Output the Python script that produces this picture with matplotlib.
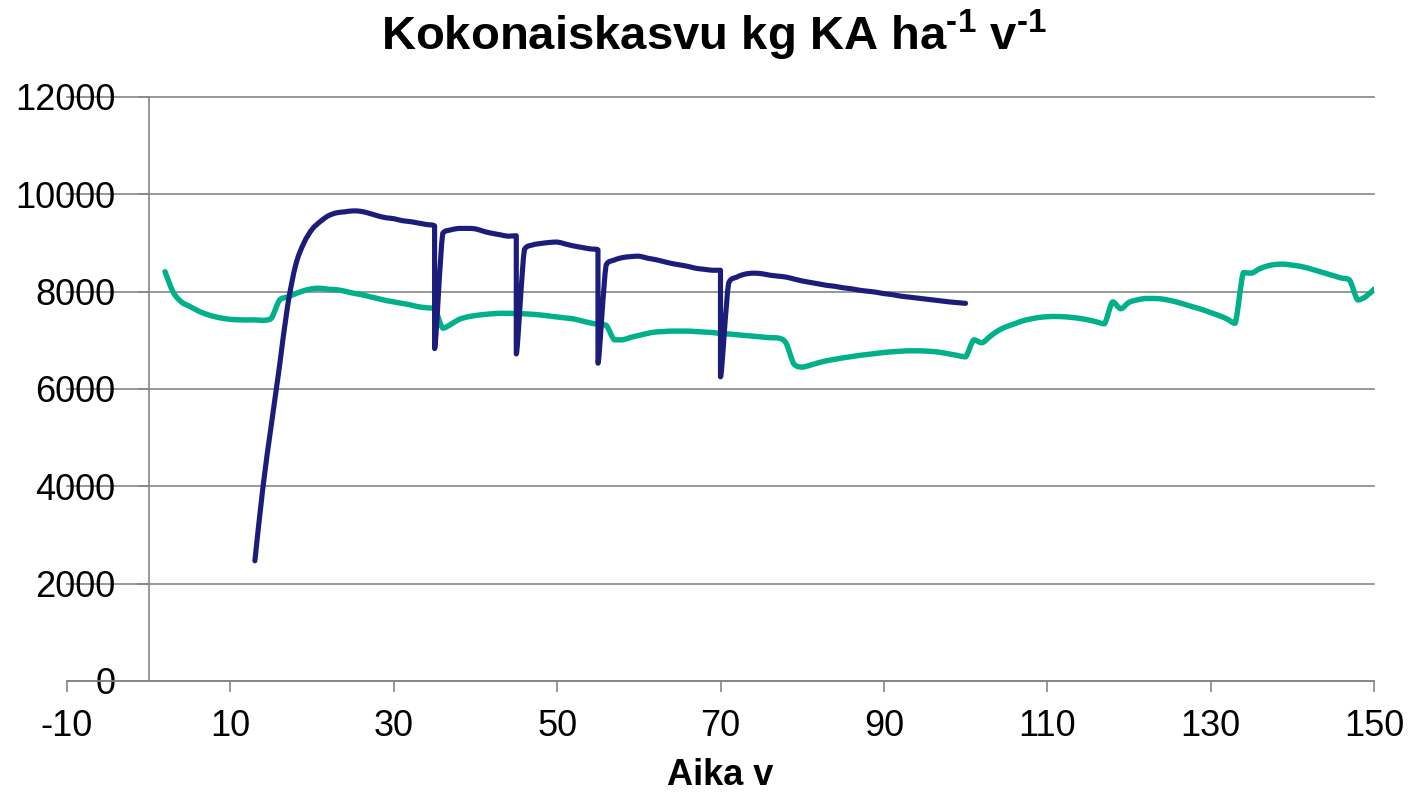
import matplotlib
matplotlib.use('Agg')
import matplotlib.pyplot as plt
from matplotlib.path import Path
from matplotlib.patches import PathPatch

plt.rcParams['font.family'] = ['Liberation Sans', 'DejaVu Sans']
plt.rcParams['mathtext.fontset'] = 'custom'
plt.rcParams['mathtext.rm'] = 'Liberation Sans:bold'
plt.rcParams['mathtext.it'] = 'Liberation Sans:bold'
plt.rcParams['mathtext.bf'] = 'Liberation Sans:bold'
plt.rcParams['mathtext.default'] = 'regular'

# ---------------- data ----------------
title_text = r'Kokonaiskasvu kg KA ha$^{\text{-1}}$ v$^{\text{-1}}$'
x_label = 'Aika v'
x_ticks = [-10, 10, 30, 50, 70, 90, 110, 130, 150]
y_ticks = [0, 2000, 4000, 6000, 8000, 10000, 12000]

navy_x = [13, 14, 15, 16, 17, 18, 19, 20, 21, 22, 23, 24, 25, 26, 27, 28, 29, 30,
          31, 32, 33, 34, 35, 35, 36, 37, 38, 39, 40, 41, 42, 43, 44, 45, 45,
          46, 47, 48, 49, 50, 51, 52, 53, 54, 55, 55, 56, 57, 58, 59, 60, 61,
          62, 63, 64, 65, 66, 67, 68, 69, 70, 70, 71, 72, 73, 74, 75, 76, 77,
          78, 79, 80, 81, 82, 83, 84, 85, 86, 87, 88, 89, 90, 91, 92, 93, 94,
          95, 96, 97, 98, 99, 100]
navy_y = [2470, 4000, 5250, 6450, 7700, 8550, 9000, 9280, 9440, 9560, 9620, 9640,
          9660, 9650, 9610, 9560, 9520, 9500, 9460, 9440, 9410, 9380, 9350, 6830,
          9200, 9270, 9300, 9300, 9290, 9240, 9200, 9170, 9140, 9150, 6720,
          8870, 8960, 8990, 9010, 9020, 8980, 8940, 8910, 8880, 8860, 6530,
          8550, 8650, 8700, 8720, 8730, 8690, 8660, 8620, 8580, 8550, 8520,
          8480, 8460, 8440, 8440, 6250, 8180, 8300, 8360, 8380, 8370, 8340,
          8320, 8300, 8260, 8220, 8190, 8160, 8130, 8110, 8080, 8060, 8030,
          8010, 7990, 7960, 7940, 7910, 7890, 7870, 7850, 7830, 7810, 7790,
          7775, 7760]

teal_x = list(range(2, 151))
teal_y = [8410, 7990, 7790, 7700, 7610, 7540, 7490, 7455, 7432, 7422, 7418, 7420,
          7410, 7450, 7820, 7890, 7960, 8020, 8060, 8070, 8050, 8040, 8010, 7970,
          7940, 7900, 7860, 7820, 7790, 7760, 7730, 7690, 7670, 7650, 7250, 7330,
          7430, 7480, 7510, 7530, 7545, 7555, 7555, 7550, 7545, 7535, 7520, 7500,
          7480, 7460, 7440, 7400, 7360, 7330, 7310, 7010, 7010, 7060, 7100, 7140,
          7170, 7180, 7190, 7190, 7190, 7180, 7170, 7160, 7140, 7130, 7115, 7100,
          7085, 7070, 7055, 7050, 6950, 6510, 6450, 6490, 6540, 6580, 6610, 6640,
          6665, 6690, 6710, 6730, 6750, 6765, 6775, 6785, 6785, 6780, 6770, 6750,
          6720, 6690, 6660, 7010, 6950, 7080, 7200, 7280, 7340, 7400, 7440, 7470,
          7485, 7490, 7485, 7470, 7450, 7420, 7380, 7340, 7790, 7650, 7780, 7830,
          7860, 7860, 7850, 7820, 7780, 7730, 7680, 7630, 7570, 7510, 7440, 7350,
          8390, 8380, 8470, 8530, 8560, 8565, 8545, 8520, 8480, 8430, 8380, 8330,
          8280, 8240, 7830, 7900, 8050]

NAVY = '#1c1c7a'
TEAL = '#00b08a'
GRAY = '#868686'


def _clamp(v, a, b):
    lo, hi = min(a, b), max(a, b)
    return max(lo, min(hi, v))


def smooth_path(xs, ys):
    """Smoothed line: cubic Bezier segments with Catmull-Rom tangents,
    control points kept inside each segment's box (no overshoot)."""
    pts = list(zip(xs, ys))
    n = len(pts)
    verts = [pts[0]]
    codes = [Path.MOVETO]
    for i in range(n - 1):
        p0 = pts[i - 1] if i > 0 else pts[i]
        p1 = pts[i]
        p2 = pts[i + 1]
        p3 = pts[i + 2] if i + 2 < n else pts[i + 1]
        c1 = [p1[0] + (p2[0] - p0[0]) / 6.0, p1[1] + (p2[1] - p0[1]) / 6.0]
        c2 = [p2[0] - (p3[0] - p1[0]) / 6.0, p2[1] - (p3[1] - p1[1]) / 6.0]
        for c in (c1, c2):
            c[0] = _clamp(c[0], p1[0], p2[0])
            c[1] = _clamp(c[1], p1[1], p2[1])
        verts += [tuple(c1), tuple(c2), p2]
        codes += [Path.CURVE4] * 3
    return Path(verts, codes)


# ---------------- figure ----------------
W, H = 1423, 792
fig = plt.figure(figsize=(W / 100, H / 100), dpi=100)
ax = fig.add_axes([67 / W, 1 - 681 / H, (1374 - 67) / W, (681 - 97) / H])

ax.add_patch(PathPatch(smooth_path(teal_x, teal_y), fill=False, edgecolor=TEAL,
                       lw=3.9, joinstyle='round', capstyle='round', zorder=3))
ax.add_patch(PathPatch(smooth_path(navy_x, navy_y), fill=False, edgecolor=NAVY,
                       lw=3.7, joinstyle='round', capstyle='round', zorder=4))

ax.set_xlim(-10, 150)
ax.set_ylim(0, 12000)
ax.set_xticks(x_ticks)
ax.set_yticks(y_ticks)
ax.set_xticklabels([str(v) for v in x_ticks])
ax.set_yticklabels([str(v) for v in y_ticks])

ax.spines['left'].set_position(('data', 0))
ax.spines['top'].set_visible(False)
ax.spines['right'].set_visible(False)
for s in ('left', 'bottom'):
    ax.spines[s].set_color(GRAY)
    ax.spines[s].set_linewidth(1.2)

ax.grid(axis='y', color=GRAY, lw=1.2)
ax.grid(axis='x', visible=False)
ax.set_axisbelow(True)
for gl in ax.get_ygridlines():
    gl.set_clip_on(False)

ax.tick_params(axis='both', direction='out', length=8, width=1.2, color=GRAY,
               labelsize=26, labelcolor='black')
ax.tick_params(axis='y', pad=16)
ax.tick_params(axis='x', pad=12)

fig.text(714.5 / W, 1 - 50 / H, title_text, ha='center', va='baseline',
         fontsize=34, fontweight='bold')
fig.text(720 / W, 1 - 785 / H, x_label, ha='center', va='baseline',
         fontsize=26, fontweight='bold')

fig.savefig('out.png', dpi=100)
